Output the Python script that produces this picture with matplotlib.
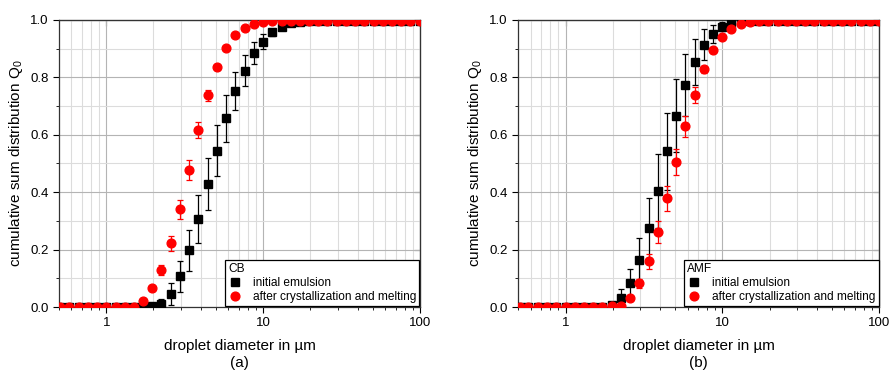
import matplotlib
matplotlib.use("Agg")
import matplotlib.pyplot as plt
from matplotlib.lines import Line2D
from matplotlib.ticker import LogLocator, MultipleLocator, NullFormatter

plt.rcParams["font.family"] = ["Liberation Sans", "DejaVu Sans"]
plt.rcParams["mathtext.fontset"] = "custom"
plt.rcParams["mathtext.rm"] = "Liberation Sans"
plt.rcParams["mathtext.it"] = "Liberation Sans:italic"

# droplet size classes (µm)
x_um = [0.51, 0.58, 0.67, 0.76, 0.87, 1.00, 1.15, 1.31, 1.50, 1.72,
        1.97, 2.25, 2.58, 2.95, 3.38, 3.87, 4.43, 5.07, 5.81, 6.65,
        7.61, 8.71, 10.0, 11.4, 13.1, 15.0, 17.1, 19.6, 22.5, 25.7,
        29.4, 33.7, 38.6, 44.2, 50.6, 57.9, 66.3, 75.9, 86.9, 99.5]

# CB
cb_init = [0] * 10 + [0.003, 0.012, 0.045, 0.107, 0.197, 0.306, 0.428, 0.545, 0.657,
                      0.752, 0.824, 0.884, 0.925, 0.957, 0.977, 0.988, 0.994] + [0.996] * 13
cb_init_err = [0] * 10 + [0.005, 0.015, 0.038, 0.054, 0.070, 0.084, 0.090, 0.090, 0.082,
                          0.067, 0.053, 0.038, 0.025, 0.012, 0.006, 0.003, 0.002] + [0] * 13
cb_melt = [0] * 9 + [0.022, 0.065, 0.130, 0.222, 0.341, 0.477, 0.616, 0.738, 0.835,
                     0.903, 0.947, 0.971, 0.986, 0.993] + [0.996] * 17
cb_melt_err = [0] * 9 + [0.005, 0.008, 0.018, 0.027, 0.033, 0.034, 0.028, 0.019, 0.008,
                         0.005, 0.003, 0.002, 0.001, 0.001] + [0] * 17

# AMF
amf_init = [0] * 10 + [0.008, 0.031, 0.084, 0.164, 0.275, 0.404, 0.542, 0.667, 0.775,
                       0.855, 0.914, 0.952, 0.977, 0.990] + [0.996] * 16
amf_init_err = [0] * 10 + [0.010, 0.032, 0.050, 0.077, 0.104, 0.128, 0.134, 0.128, 0.108,
                           0.080, 0.053, 0.032, 0.015, 0.006] + [0] * 16
amf_melt = [0] * 10 + [0.005, 0.003, 0.030, 0.082, 0.159, 0.261, 0.379, 0.506, 0.629,
                       0.739, 0.828, 0.894, 0.941, 0.969, 0.986, 0.993] + [0.996] * 14
amf_melt_err = [0] * 10 + [0.003, 0.003, 0.010, 0.015, 0.025, 0.037, 0.044, 0.046, 0.038,
                           0.027, 0.012, 0.008, 0.005, 0.003, 0.002, 0.001] + [0] * 14

panels = [
    ("CB", "(a)", cb_init, cb_init_err, cb_melt, cb_melt_err),
    ("AMF", "(b)", amf_init, amf_init_err, amf_melt, amf_melt_err),
]
lefts = [59 / 891, 518.3 / 891]

fig = plt.figure(figsize=(8.91, 3.70), dpi=100)

for (name, tag, yi, ei, ym, em), left in zip(panels, lefts):
    ax = fig.add_axes([left, 1 - 307 / 370, 361 / 891, 287 / 370])
    ax.set_xscale("log")
    ax.set_xlim(0.5, 100)
    ax.set_ylim(0, 1.0)

    # grid
    ax.grid(True, which="major", color="#b4b4b4", lw=0.8)
    ax.grid(True, which="minor", color="#dcdcdc", lw=0.8)
    ax.set_axisbelow(True)

    ax.errorbar(x_um, yi, yerr=ei, fmt="s", color="black", ms=5.5,
                ecolor="black", elinewidth=0.9, capsize=2.2, capthick=0.9, zorder=3)
    ax.errorbar(x_um, ym, yerr=em, fmt="o", color="#ff0000", ms=6.3,
                ecolor="#ff0000", elinewidth=0.9, capsize=2.2, capthick=0.9, zorder=4)

    ax.xaxis.set_major_locator(LogLocator(base=10))
    ax.xaxis.set_minor_locator(LogLocator(base=10, subs=range(2, 10)))
    ax.xaxis.set_minor_formatter(NullFormatter())
    ax.xaxis.set_major_formatter(plt.FuncFormatter(lambda v, p: f"{v:g}"))
    ax.yaxis.set_major_locator(MultipleLocator(0.2))
    ax.yaxis.set_minor_locator(MultipleLocator(0.1))
    ax.yaxis.set_major_formatter(plt.FuncFormatter(lambda v, p: f"{v:.1f}"))

    ax.tick_params(which="major", direction="out", length=4, width=0.8, labelsize=9.5)
    ax.tick_params(which="minor", direction="out", length=2.5, width=0.6)
    for s in ax.spines.values():
        s.set_linewidth(0.9)
        s.set_color("#333333")

    # mirrored inward ticks on top / right
    top = ax.secondary_xaxis("top")
    top.xaxis.set_major_locator(LogLocator(base=10))
    top.xaxis.set_minor_locator(LogLocator(base=10, subs=range(2, 10)))
    top.tick_params(which="both", direction="in", labeltop=False)
    top.tick_params(which="major", length=4)
    top.tick_params(which="minor", length=2.5)
    right = ax.secondary_yaxis("right")
    right.yaxis.set_major_locator(MultipleLocator(0.2))
    right.yaxis.set_minor_locator(MultipleLocator(0.1))
    right.tick_params(which="both", direction="in", labelright=False)
    right.tick_params(which="major", length=4)
    right.tick_params(which="minor", length=2.5)

    ax.set_xlabel("droplet diameter in µm", fontsize=11, labelpad=7)
    ax.set_ylabel("cumulative sum distribution Q$_0$", fontsize=11, labelpad=4)
    ax.text(0.5, -0.195, tag, transform=ax.transAxes, ha="center", va="center", fontsize=11)

    handles = [
        Line2D([], [], ls="none", marker="s", color="black", ms=5.5),
        Line2D([], [], ls="none", marker="o", color="#ff0000", ms=6.3),
    ]
    leg = ax.legend(handles, ["initial emulsion", "after crystallization and melting"],
                    title=name, loc="lower right", fontsize=8.6, title_fontsize=8.6,
                    alignment="left", fancybox=False, framealpha=1, edgecolor="black",
                    borderaxespad=0.05, handlelength=1.2, handletextpad=0.9,
                    borderpad=0.25, labelspacing=0.2)
    leg.get_frame().set_linewidth(0.9)
    leg.set_zorder(10)

fig.savefig("out.png", dpi=100)
